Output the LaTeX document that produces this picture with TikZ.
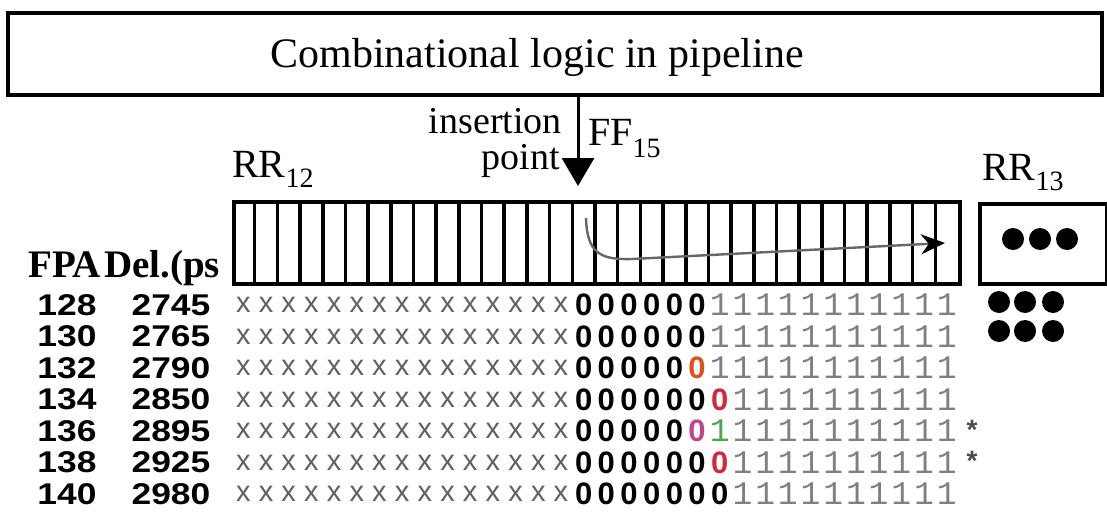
\documentclass[tikz,border=0pt]{standalone}
\usepackage{fontspec}
\setmainfont{Liberation Serif}
\newfontfamily\numfont[FakeStretch=1.18]{Liberation Sans}
\newfontfamily\bitfont{Liberation Sans}
\newfontfamily\onefont{Liberation Mono}
\usetikzlibrary{arrows.meta}
\definecolor{xgray}{gray}{0.38}
\definecolor{onegray}{gray}{0.5}
\definecolor{zorange}{HTML}{E0501E}
\definecolor{zred}{HTML}{D0283C}
\definecolor{zpink}{HTML}{C0448A}
\definecolor{ogreen}{HTML}{4CA64C}
\newcommand{\lowsub}[2]{\raisebox{-#1pt}{\fontsize{28}{28}\selectfont #2}}
\begin{document}
\begin{tikzpicture}[x=1pt,y=-1pt,
  frame/.style={draw, line width=4pt, inner sep=0pt},
  cellline/.style={line width=3.6pt},
  lbl/.style={inner sep=0pt, font=\fontsize{40}{40}\selectfont},
  head/.style={inner sep=0pt, font=\bfseries\fontsize{39}{39}\selectfont},
  num/.style={inner sep=0pt, font=\numfont\bfseries\fontsize{30}{30}\selectfont},
  bitx/.style={inner sep=0pt, text=xgray, font=\bitfont\fontsize{29}{29}\selectfont},
  bitzero/.style={inner sep=0pt, font=\bitfont\bfseries\fontsize{31}{31}\selectfont},
  bitone/.style={inner sep=0pt, text=onegray, font=\onefont\fontsize{33}{33}\selectfont},
  starmark/.style={inner sep=0pt, text=black!70, font=\bitfont\bfseries\fontsize{28}{28}\selectfont},
  blob/.style={circle, fill=black, inner sep=0pt, minimum size=22pt},
]
\useasboundingbox (0,0) rectangle (1107,514);

% pipeline logic block
\node[frame, minimum width=1094, minimum height=82] (logic) at (555,54) {};
\node[lbl, anchor=base, font=\fontsize{42}{42}\selectfont] (logictext) at (537,67) {Combinational logic in pipeline};

% insertion point arrow
\coordinate (ins) at (578,186);
\draw[line width=3pt, -{Triangle[length=28pt,width=32pt]}] (logic.south -| ins) -- (ins);
\node[lbl, anchor=base east, font=\fontsize{38}{38}\selectfont] (instxt) at (562,133) {insertion};
\node[lbl, anchor=base east, font=\fontsize{38}{38}\selectfont] (ptxt) at (560,169) {point};
\node[lbl, anchor=base west] (ff) at (588,145) {FF\lowsub{12}{15}};

% register RR12 with 32 flip-flops
\node[frame, minimum width=726, minimum height=82, anchor=north west] (rr12) at (232,200) {};
\foreach \k in {1,...,31}
  \draw[cellline] ({232+22.6875*\k},200) -- ({232+22.6875*\k},282);
\node[lbl, anchor=base west] (rr12lbl) at (232,177) {RR\lowsub{10}{12}};

% propagation path inside the register
\coordinate (flowstart) at (586,218);
\coordinate (flowbend) at (632,259);
\coordinate (flowend) at (945,243);
\draw[line width=2.4pt, gray!80!black, -{Stealth[length=24pt,width=20pt,black]}]
  (flowstart) .. controls (587,253) and (600,260) .. (flowbend) -- (flowend);

% register RR13
\node[frame, minimum width=127, minimum height=80, anchor=north west] (rr13) at (978,202) {};
\node[lbl, anchor=base west] (rr13lbl) at (982,180) {RR\lowsub{10}{13}};
\foreach \i/\px in {1/1013,2/1040,3/1067}
  \node[blob] (in\i) at (\px,239) {};
\foreach \i/\px in {1/999,2/1025,3/1053} {
  \node[blob] (ua\i) at (\px,302) {};
  \node[blob] (ub\i) at (\px,331) {};
}

% table header
\node[head, anchor=base west] (hfpa) at (28,277) {FPA};
\node[head, anchor=base west] (hdel) at (104,277) {Del.(ps};

% table rows: FPA, delay, and the captured bits per flip-flop
\foreach \r/\y/\fpa/\del/\zb/\ob in {1/305/128/2745/21/22, 2/336.5/130/2765/21/22,
    3/368/132/2790/20/22, 4/399.5/134/2850/21/23, 5/431/136/2895/20/23,
    6/462.5/138/2925/21/23, 7/494/140/2980/22/23} {
  \node[num] (fpa\r) at (67,\y) {\fpa};
  \node[num] (del\r) at (171,\y) {\del};
  \foreach \k in {1,...,15}
    \node[bitx] (b\r-\k) at ({232+22.6875*(\k-0.5)},\y) {x};
  \foreach \k in {16,...,\zb}
    \node[bitzero] (b\r-\k) at ({232+22.6875*(\k-0.5)},\y) {0};
  \foreach \k in {\ob,...,32}
    \node[bitone] (b\r-\k) at ({232+22.6875*(\k-0.5)},\y) {1};
}
% late-switching flip-flops
\node[bitzero, text=zorange] (b3-21) at ({232+22.6875*20.5},368) {0};
\node[bitzero, text=zred] (b4-22) at ({232+22.6875*21.5},399.5) {0};
\node[bitzero, text=zpink] (b5-21) at ({232+22.6875*20.5},431) {0};
\node[bitone, text=ogreen] (b5-22) at ({232+22.6875*21.5},431) {1};
\node[bitzero, text=zred] (b6-22) at ({232+22.6875*21.5},462.5) {0};
\node[starmark] (m5) at (972,430) {*};
\node[starmark] (m6) at (972,461) {*};
\end{tikzpicture}
\end{document}
